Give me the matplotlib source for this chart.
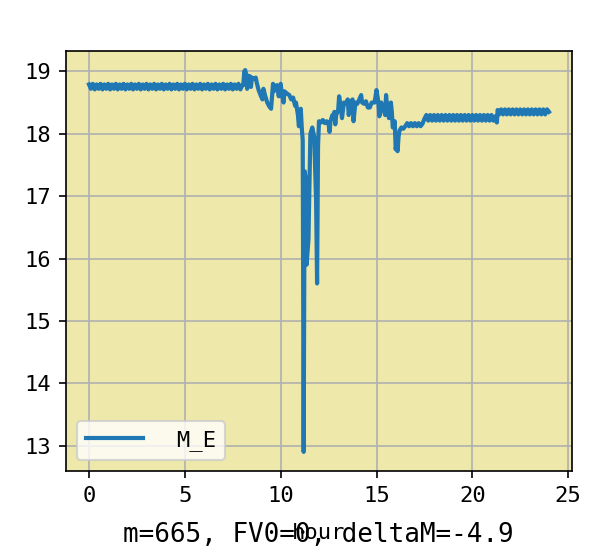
import matplotlib
matplotlib.use("Agg")
import matplotlib.pyplot as plt

# ---- data (hour, M_E) ----
hours_a = [0.0, 0.1, 0.2, 0.3, 0.4, 0.5, 0.6, 0.7, 0.8, 0.9,
           1.0, 1.1, 1.2, 1.3, 1.4, 1.5, 1.6, 1.7, 1.8, 1.9,
           2.0, 2.1, 2.2, 2.3, 2.4, 2.5, 2.6, 2.7, 2.8, 2.9,
           3.0, 3.1, 3.2, 3.3, 3.4, 3.5, 3.6, 3.7, 3.8, 3.9,
           4.0, 4.1, 4.2, 4.3, 4.4, 4.5, 4.6, 4.7, 4.8, 4.9,
           5.0, 5.1, 5.2, 5.3, 5.4, 5.5, 5.6, 5.7, 5.8, 5.9,
           6.0, 6.1, 6.2, 6.3, 6.4, 6.5, 6.6, 6.7, 6.8, 6.9,
           7.0, 7.1, 7.2, 7.3, 7.4, 7.5, 7.6, 7.7, 7.8, 7.9,
           8.0]
me_a = [18.79, 18.72, 18.80, 18.71, 18.79, 18.72, 18.80, 18.71, 18.79, 18.72,
        18.80, 18.71, 18.79, 18.72, 18.80, 18.71, 18.79, 18.72, 18.80, 18.71,
        18.79, 18.72, 18.80, 18.71, 18.79, 18.72, 18.80, 18.71, 18.79, 18.72,
        18.80, 18.71, 18.79, 18.72, 18.80, 18.71, 18.79, 18.72, 18.80, 18.71,
        18.79, 18.72, 18.80, 18.71, 18.79, 18.72, 18.80, 18.71, 18.79, 18.72,
        18.80, 18.71, 18.79, 18.72, 18.80, 18.71, 18.79, 18.72, 18.80, 18.71,
        18.79, 18.72, 18.80, 18.71, 18.79, 18.72, 18.80, 18.71, 18.79, 18.72,
        18.80, 18.71, 18.79, 18.72, 18.80, 18.71, 18.79, 18.72, 18.80, 18.71,
        18.78]

hours_b = [8.05, 8.1, 8.15, 8.2, 8.25, 8.3, 8.4, 8.45, 8.5, 8.6,
           8.7, 8.75, 8.85, 8.95, 9.05, 9.1, 9.2, 9.3, 9.4, 9.5,
           9.55, 9.6, 9.65, 9.7, 9.8, 9.85, 9.9, 10.0, 10.05, 10.15,
           10.2, 10.3, 10.45, 10.55, 10.65, 10.75, 10.8, 10.9, 10.95, 11.05,
           11.1, 11.15, 11.2, 11.25, 11.3, 11.35, 11.45, 11.55, 11.65, 11.75,
           11.85, 11.9, 11.95]
me_b = [18.78, 19.0, 19.02, 18.95, 18.72, 18.93, 18.92, 18.75, 18.9, 18.88,
        18.9, 18.82, 18.7, 18.62, 18.55, 18.72, 18.6, 18.5, 18.44, 18.4,
        18.6, 18.8, 18.68, 18.72, 18.78, 18.7, 18.6, 18.8, 18.66, 18.5,
        18.68, 18.65, 18.62, 18.55, 18.58, 18.45, 18.5, 18.3, 18.12, 18.4,
        18.1, 17.9, 12.9, 17.4, 17.3, 15.9, 16.3, 18.0, 18.1, 17.95,
        16.9, 15.6, 17.8]

hours_c = [12.0, 12.1, 12.2, 12.3, 12.4, 12.5, 12.55, 12.6, 12.7, 12.75,
           12.8, 12.85, 12.9, 13.0, 13.05, 13.1, 13.2, 13.3, 13.4, 13.5,
           13.55, 13.65, 13.75, 13.8, 13.9, 14.0, 14.1, 14.2, 14.25, 14.35,
           14.45, 14.55, 14.65, 14.75, 14.9, 15.0, 15.05, 15.1, 15.15, 15.25,
           15.35, 15.45, 15.5, 15.55, 15.65, 15.75, 15.8, 15.85, 15.95, 16.0,
           16.05, 16.1, 16.15, 16.2, 16.3, 16.4, 16.5]
me_c = [18.2, 18.18, 18.22, 18.17, 18.2, 18.15, 18.03, 18.2, 18.3, 18.25,
        18.35, 18.15, 18.3, 18.38, 18.6, 18.5, 18.25, 18.5, 18.48, 18.55,
        18.3, 18.5, 18.55, 18.2, 18.5, 18.48, 18.55, 18.62, 18.5, 18.48,
        18.52, 18.42, 18.42, 18.5, 18.5, 18.7, 18.6, 18.5, 18.28, 18.5,
        18.4, 18.3, 18.62, 18.45, 18.25, 18.5, 18.35, 18.1, 18.2, 17.75,
        17.85, 17.72, 17.95, 18.05, 18.1, 18.08, 18.12]

hours_d = [16.6, 16.7, 16.8, 16.9, 17.0, 17.1, 17.2, 17.3, 17.4, 17.5,
           17.6, 17.7, 17.8, 17.9, 18.0, 18.1, 18.2, 18.3, 18.4, 18.5,
           18.6, 18.7, 18.8, 18.9, 19.0, 19.1, 19.2, 19.3, 19.4, 19.5,
           19.6, 19.7, 19.8, 19.9, 20.0, 20.1, 20.2, 20.3, 20.4, 20.5,
           20.6, 20.7, 20.8, 20.9, 21.0, 21.1, 21.2, 21.28, 21.32,
           21.4, 21.5, 21.6, 21.7, 21.8, 21.9, 22.0, 22.1, 22.2, 22.3,
           22.4, 22.5, 22.6, 22.7, 22.8, 22.9, 23.0, 23.1, 23.2, 23.3,
           23.4, 23.5, 23.6, 23.7, 23.8, 23.9, 24.0]
me_d = [18.17, 18.12, 18.17, 18.12, 18.17, 18.12, 18.17, 18.12, 18.16, 18.24,
        18.3, 18.21, 18.3, 18.21, 18.3, 18.21, 18.3, 18.21, 18.3, 18.21,
        18.3, 18.21, 18.3, 18.21, 18.3, 18.21, 18.3, 18.21, 18.3, 18.21,
        18.3, 18.21, 18.3, 18.21, 18.3, 18.21, 18.3, 18.21, 18.3, 18.21,
        18.3, 18.21, 18.3, 18.21, 18.3, 18.21, 18.28, 18.18, 18.38,
        18.31, 18.39, 18.31, 18.39, 18.31, 18.39, 18.31, 18.39, 18.31, 18.39,
        18.31, 18.39, 18.31, 18.39, 18.31, 18.39, 18.31, 18.39, 18.31, 18.39,
        18.31, 18.39, 18.31, 18.39, 18.31, 18.39, 18.35]

hours = hours_a + hours_b + hours_c + hours_d
me_values = me_a + me_b + me_c + me_d

series_label = "M_E"
x_label = "hour"
note_text = "m=665, FV0=0, deltaM=-4.9"
x_ticks = [0, 5, 10, 15, 20, 25]
y_ticks = [13, 14, 15, 16, 17, 18, 19]

# ---- style ----
plt.rcParams["font.family"] = ["DejaVu Sans Mono"]
fs = 10.6

fig = plt.figure(figsize=(594 / 150, 551 / 150), dpi=150)
ax = fig.add_axes([66 / 594, 80 / 551, 506 / 594, 420 / 551])
ax.set_facecolor("palegoldenrod")

ax.plot(hours, me_values, color="#1f77b4", linewidth=2, label=series_label)

ax.set_xticks(x_ticks)
ax.set_yticks(y_ticks)
ax.tick_params(labelsize=fs)
ax.grid(True, color="#b0b0b0", linewidth=0.8)
ax.set_axisbelow(True)
ax.set_xlabel(x_label, fontsize=fs, labelpad=8.5)

ax.legend(loc="lower left", fontsize=fs, handlelength=2.6, handletextpad=1.5)

fig.text(318 / 594, 0.017, note_text, ha="center", va="baseline", fontsize=12.5)

fig.savefig("out.png", dpi=150)
